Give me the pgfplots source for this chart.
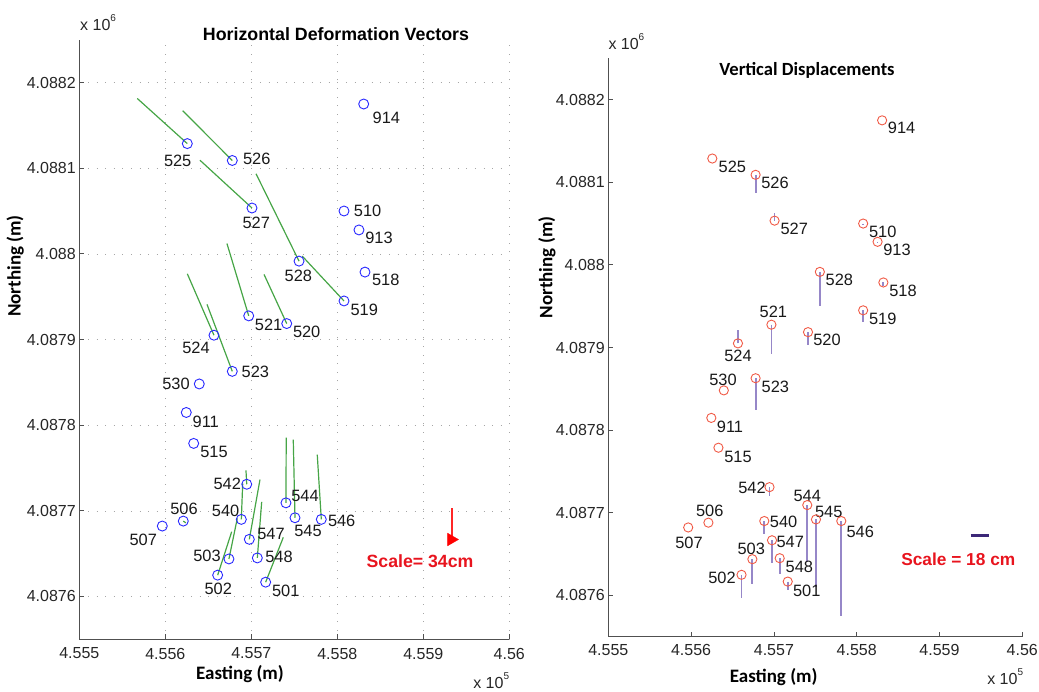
\documentclass[border=0pt]{standalone}
\usepackage{pgfplots}
\pgfplotsset{compat=1.18}
\usepackage{pgfplotstable}
\usepackage{fontspec}
\setmainfont{Liberation Sans}
\newfontfamily\calibri{Carlito}

\definecolor{vgreen}{RGB}{70,165,70}
\definecolor{vblue}{RGB}{40,40,255}
\definecolor{vred}{RGB}{240,90,70}
\definecolor{vpurp}{RGB}{150,135,200}
\definecolor{dpurp}{RGB}{60,40,120}
\definecolor{sred}{RGB}{232,20,30}
\definecolor{axgray}{RGB}{80,80,80}

% Easting - 455500 m, Northing - 4087500 m; u,v horizontal vector; w vertical displacement
\pgfplotstableread{
id  x     y     u     v     w
914 330.7 674.9 0     0     0
525 125.6 628.7 -58.2 52.7  0
526 177.9 609.0 -57.7 58.1  -21.8
527 200.8 553.5 -60.5 55.8  8.9
510 307.8 550.0 0     0     -2
913 325.2 527.9 0     0     -2
528 255.5 491.5 -50.0 102.0 -41.1
518 332.2 478.7 0     0     -4
519 307.8 445.0 -48.5 52.3  -14.1
521 197.0 427.6 -25.3 84.4  -35.4
520 241.2 418.6 -26.4 57.4  -16.0
524 156.6 405.0 -31.0 71.7  16.0
523 177.9 362.8 -29.4 78.2  -39.0
530 139.5 348.1 0     0     0
911 124.4 314.8 0     0     0
515 133.0 278.7 0     0     0
542 194.7 231.0 -0.9  16.3  -11.3
544 240.3 209.3 0.3   76.0  -69.0
540 188.4 190.0 1.6   41.9  -15.7
545 250.8 191.9 -2.0  91.1  -82.0
546 281.4 190.0 -4.7  75.6  -115.0
506 120.9 188.0 3.0   -2.0  0
507 96.5  182.2 0     0     0
547 197.7 166.7 12.4  69.8  -27.8
503 174.0 143.8 9.7   47.4  -29.8
548 207.0 145.0 5.1   65.5  -19.7
502 160.9 124.9 16.3  50.7  -28.2
501 216.7 116.7 20.5  52.3  -9.7
}\pts

\pgfplotsset{
  base/.style={
    scale only axis, anchor=south west,
    xmin=0, xmax=500, ymin=50, ymax=750,
    axis lines*=left,
    axis line style={axgray, line width=0.8pt},
    tick align=inside, major tick length=5pt,
    tick style={axgray, line width=0.8pt},
    xtick={0,100,200,300,400,500},
    xticklabels={4.555,4.556,4.557,4.558,4.559,4.56},
    ytick={100,200,300,400,500,600,700},
    yticklabels={4.0876,4.0877,4.0878,4.0879,4.088,4.0881,4.0882},
    ticklabel style={font=\fontsize{16}{18}\selectfont, text=black!85},
    clip=false,
  },
}
\tikzset{lbl/.style={font=\fontsize{16.4}{18}\selectfont, text=black!90, inner sep=0pt}}

\begin{document}
\begin{tikzpicture}[x=1pt,y=1pt]
\useasboundingbox (0,0) rectangle (1039,691);

% ---------------- Left: horizontal vectors ----------------
\begin{axis}[base, at={(79.3pt,51.7pt)}, width=430pt, height=599.6pt,
  grid=major, major grid style={gray!70, line width=0.6pt, dash pattern=on 0.8pt off 7.8pt},
  xticklabel style={yshift=-5pt}]
\addplot[vgreen, line width=1.2pt, quiver={u=\thisrow{u}, v=\thisrow{v}}] table[x=x, y=y] {\pts};
\addplot[only marks, mark=o, mark size=5pt, vblue, mark options={line width=0.9pt}] table[x=x, y=y] {\pts};
% scale arrow
\addplot[red!85, line width=2pt] coordinates {(433,203) (433,165)};
\addplot[only marks, red, mark=triangle*, mark size=7.2pt, mark options={rotate=-90}] coordinates {(432.5,166.5)};
\node[lbl] at (axis cs:357,659) {914};
\node[lbl] at (axis cs:114.4,608.6) {525};
\node[lbl] at (axis cs:206.3,610.9) {526};
\node[lbl] at (axis cs:205.8,536.5) {527};
\node[lbl] at (axis cs:335.3,550.5) {510};
\node[lbl] at (axis cs:348.5,518.3) {913};
\node[lbl] at (axis cs:254.7,474.1) {528};
\node[lbl] at (axis cs:356.3,469.1) {518};
\node[lbl] at (axis cs:331.4,434.2) {519};
\node[lbl] at (axis cs:220.2,417.1) {521};
\node[lbl] at (axis cs:264.4,408.9) {520};
\node[lbl] at (axis cs:135.7,390.7) {524};
\node[lbl] at (axis cs:204.7,362.4) {523};
\node[lbl] at (axis cs:112.4,348.1) {530};
\node[lbl] at (axis cs:147,304.3) {911};
\node[lbl] at (axis cs:156.6,268.6) {515};
\node[lbl] at (axis cs:172.1,231.9) {542};
\node[lbl] at (axis cs:262.4,217.4) {544};
\node[lbl] at (axis cs:170.2,200.5) {540};
\node[lbl] at (axis cs:265.9,176.4) {545};
\node[lbl] at (axis cs:305.1,188) {546};
\node[lbl] at (axis cs:121.7,202.8) {506};
\node[lbl] at (axis cs:74.4,165.9) {507};
\node[lbl] at (axis cs:222.9,172.9) {547};
\node[lbl] at (axis cs:148.5,147.7) {503};
\node[lbl] at (axis cs:232.2,146.5) {548};
\node[lbl] at (axis cs:161.6,108.9) {502};
\node[lbl] at (axis cs:240,106.6) {501};
\end{axis}

% ---------------- Right: vertical displacements ----------------
\begin{axis}[base, at={(608.3pt,54.3pt)}, width=414pt, height=578.4pt,
  xticklabel style={yshift=-4pt}]
\addplot[vpurp, line width=1.8pt, quiver={u=0, v=\thisrow{w}}] table[x=x, y=y] {\pts};
\addplot[only marks, mark=o, mark size=4.6pt, vred, mark options={line width=0.9pt}] table[x=x, y=y] {\pts};
\addplot[dpurp, line width=3pt] coordinates {(437.7,172.8) (459.8,172.8)};
\node[lbl] at (axis cs:354.3,665.4) {914};
\node[lbl] at (axis cs:149.8,619) {525};
\node[lbl] at (axis cs:201.3,598.9) {526};
\node[lbl] at (axis cs:224.6,543.3) {527};
\node[lbl] at (axis cs:331.4,540) {510};
\node[lbl] at (axis cs:348.7,518.3) {913};
\node[lbl] at (axis cs:279,481.6) {528};
\node[lbl] at (axis cs:355.9,468.7) {518};
\node[lbl] at (axis cs:331.4,434.5) {519};
\node[lbl] at (axis cs:199.3,443.6) {521};
\node[lbl] at (axis cs:264.1,409) {520};
\node[lbl] at (axis cs:156.6,390.1) {524};
\node[lbl] at (axis cs:138.5,361) {530};
\node[lbl] at (axis cs:201.7,351.8) {523};
\node[lbl] at (axis cs:147,303.4) {911};
\node[lbl] at (axis cs:156.6,267.9) {515};
\node[lbl] at (axis cs:173.6,230.1) {542};
\node[lbl] at (axis cs:240.3,220.8) {544};
\node[lbl] at (axis cs:266.2,201.4) {545};
\node[lbl] at (axis cs:304.3,176.4) {546};
\node[lbl] at (axis cs:211.8,189.3) {540};
\node[lbl] at (axis cs:122.5,202.7) {506};
\node[lbl] at (axis cs:97.5,163.6) {507};
\node[lbl] at (axis cs:219.8,164.3) {547};
\node[lbl] at (axis cs:172.7,156.4) {503};
\node[lbl] at (axis cs:230.7,134.1) {548};
\node[lbl] at (axis cs:137.3,120.8) {502};
\node[lbl] at (axis cs:239.6,105.9) {501};
\end{axis}

% ---------------- Titles, axis labels, annotations ----------------
\node[anchor=base, font=\bfseries\fontsize{17.8}{20}\selectfont] at (336,650) {Horizontal Deformation Vectors};
\node[anchor=base, font=\calibri\bfseries\fontsize{18.6}{20}\selectfont] at (807,615) {Vertical Displacements};
\node[anchor=base, font=\calibri\bfseries\fontsize{19}{20}\selectfont] at (240,12) {Easting (m)};
\node[anchor=base, font=\calibri\bfseries\fontsize{19}{20}\selectfont] at (773.7,8.7) {Easting (m)};
\node[anchor=base, rotate=90, font=\calibri\bfseries\fontsize{19}{20}\selectfont] at (20.7,425) {Northing (m)};
\node[anchor=base, rotate=90, font=\calibri\bfseries\fontsize{19}{20}\selectfont] at (552.4,423.5) {Northing (m)};
\node[anchor=base west, inner sep=0pt, font=\fontsize{16}{18}\selectfont, text=black!85] at (80,660.3) {x 10\raisebox{0.55em}{\fontsize{10}{10}\selectfont 6}};
\node[anchor=base west, inner sep=0pt, font=\fontsize{16}{18}\selectfont, text=black!85] at (608.3,641.7) {x 10\raisebox{0.55em}{\fontsize{10}{10}\selectfont 6}};
\node[anchor=base east, inner sep=0pt, font=\fontsize{16}{18}\selectfont, text=black!85] at (509.3,2.7) {x 10\raisebox{0.55em}{\fontsize{10}{10}\selectfont 5}};
\node[anchor=base east, inner sep=0pt, font=\fontsize{16}{18}\selectfont, text=black!85] at (1023.3,7) {x 10\raisebox{0.55em}{\fontsize{10}{10}\selectfont 5}};
\node[font=\bfseries\fontsize{17.7}{20}\selectfont, text=sred] at (420,130) {Scale= 34cm};
\node[font=\bfseries\fontsize{17.3}{20}\selectfont, text=sred] at (958.3,131.7) {Scale = 18 cm};
\end{tikzpicture}
\end{document}
